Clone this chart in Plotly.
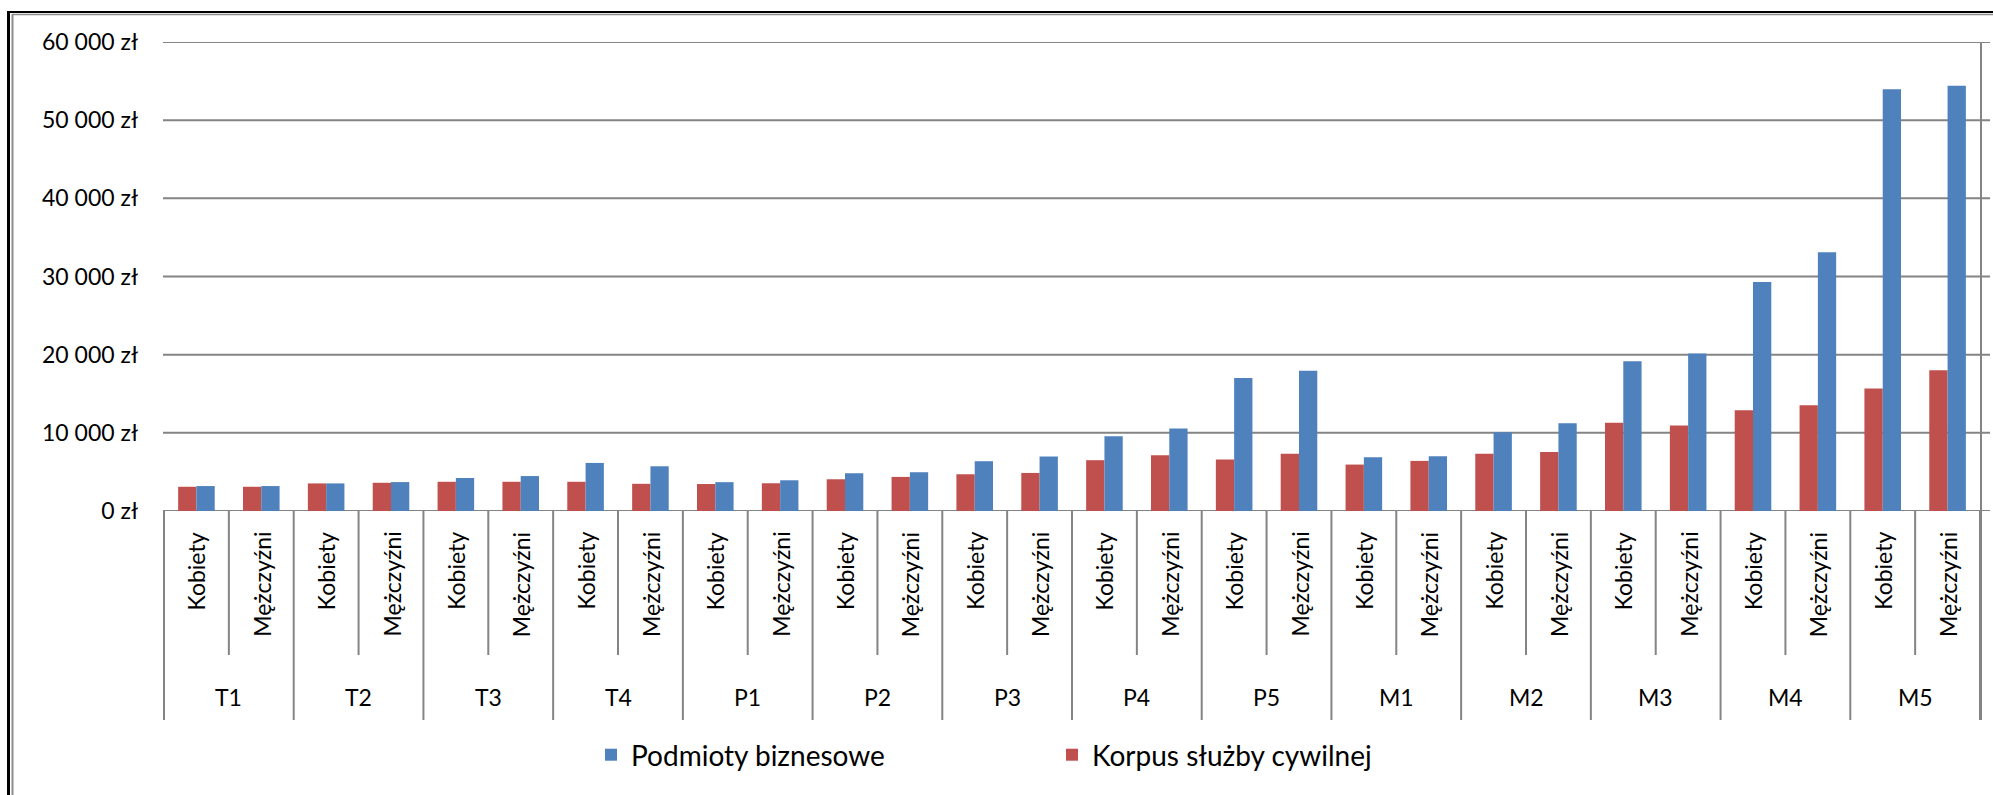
import plotly.graph_objects as go

# ---------------- data ----------------
groups = ["T1", "T2", "T3", "T4", "P1", "P2", "P3", "P4", "P5",
          "M1", "M2", "M3", "M4", "M5"]
subgroups = ["Kobiety", "Mężczyźni"]

korpus = [3100, 3100, 3530, 3610, 3740, 3740, 3740, 3480, 3450, 3550,
          4060, 4360, 4700, 4870, 6500, 7140, 6580, 7310, 5940, 6410,
          7310, 7560, 11280, 10930, 12900, 13540, 15670, 18020]
biznes = [3190, 3190, 3530, 3700, 4220, 4470, 6150, 5720, 3690, 3930,
          4830, 4960, 6370, 6970, 9570, 10560, 17000, 17950, 6880, 7010,
          10090, 11240, 19160, 20150, 29290, 33090, 53970, 54400]

series_names = ["Korpus służby cywilnej", "Podmioty biznesowe"]
series_colors = ["#C0504D", "#4F81BD"]

y_ticks = [0, 10000, 20000, 30000, 40000, 50000, 60000]
y_ticktext = ["0 zł", "10 000 zł", "20 000 zł", "30 000 zł",
              "40 000 zł", "50 000 zł", "60 000 zł"]

# ---------------- layout geometry ----------------
W, H = 1993, 795
L, R, T, B = 163, 1981, 42, 511
FONT = "Lato, 'Open Sans', sans-serif"
GRID = "#848484"
TXT = "#000000"


def px(x):
    return (x - L) / (R - L)


def py(y):
    return (B - y) / (B - T)


categories = [f"{g} {s}" for g in groups for s in subgroups]

fig = go.Figure()
fig.add_trace(go.Bar(x=categories, y=korpus, name=series_names[0],
                     marker=dict(color=series_colors[0], line=dict(width=0))))
fig.add_trace(go.Bar(x=categories, y=biznes, name=series_names[1],
                     marker=dict(color=series_colors[1], line=dict(width=0))))

shapes = []
# horizontal gridlines (extend slightly past plot edge like the original)
for v in y_ticks:
    shapes.append(dict(type="line", xref="paper", yref="y", x0=0, x1=px(1990),
                       y0=v, y1=v, line=dict(color=GRID, width=2), layer="below"))
# right border line of plot
shapes.append(dict(type="line", xref="paper", yref="paper", x0=1, x1=1,
                   y0=py(720), y1=1, line=dict(color=GRID, width=2)))
# inner dividers (between Kobiety / Mężczyźni) and group dividers
n = len(categories)
for i in range(n + 1):
    xpos = i - 0.5
    bottom = 720 if i % 2 == 0 else 655
    shapes.append(dict(type="line", xref="x", yref="paper", x0=xpos, x1=xpos,
                       y0=py(bottom), y1=0, line=dict(color=GRID, width=2)))

# outer frame (double line, left and top)
shapes.append(dict(type="line", xref="paper", yref="paper", x0=px(8.5), x1=px(8.5),
                   y0=py(795), y1=py(11), line=dict(color="#000000", width=3)))
shapes.append(dict(type="line", xref="paper", yref="paper", x0=px(12.5), x1=px(12.5),
                   y0=py(795), y1=py(14), line=dict(color="#8c8c8c", width=2)))
shapes.append(dict(type="line", xref="paper", yref="paper", x0=px(7), x1=px(1993),
                   y0=py(12), y1=py(12), line=dict(color="#000000", width=2)))
shapes.append(dict(type="line", xref="paper", yref="paper", x0=px(12), x1=px(1993),
                   y0=py(14.5), y1=py(14.5), line=dict(color="#8c8c8c", width=1.5)))

annotations = []
for c in categories:
    sub = c.split(" ", 1)[1]
    annotations.append(dict(x=c, xref="x", yref="paper", y=py(530),
                            text=sub, textangle=-90, showarrow=False,
                            xanchor="center", yanchor="top",
                            font=dict(family=FONT, size=23, color=TXT)))
for gi, g in enumerate(groups):
    annotations.append(dict(x=gi * 2 + 0.5, xref="x", yref="paper", y=py(697),
                            text=g, showarrow=False, xanchor="center",
                            yanchor="middle",
                            font=dict(family=FONT, size=23, color=TXT)))

fig.update_layout(
    width=W, height=H,
    margin=dict(l=L, r=W - R, t=T, b=H - B, pad=0),
    paper_bgcolor="white", plot_bgcolor="white",
    barmode="group", bargap=0.436, bargroupgap=0,
    font=dict(family=FONT, size=23, color=TXT),
    shapes=shapes, annotations=annotations,
    showlegend=True,
    legend=dict(orientation="h", traceorder="reversed",
                x=px(591), xanchor="left", y=py(755), yanchor="middle",
                font=dict(family=FONT, size=28, color=TXT),
                entrywidth=416, bgcolor="rgba(0,0,0,0)"),
    xaxis=dict(type="category", showticklabels=False, showgrid=False,
               zeroline=False, showline=False, ticks=""),
    yaxis=dict(range=[0, 60000], tickvals=y_ticks, ticktext=y_ticktext,
               showgrid=False, zeroline=False, showline=False, ticks="",
               ticklabelstandoff=24,
               tickfont=dict(family=FONT, size=23, color=TXT)),
)

fig.write_html("out.html",
               config={"displayModeBar": False},
               post_script="document.body.style.margin='0';"
                           "document.body.style.overflow='hidden';")
